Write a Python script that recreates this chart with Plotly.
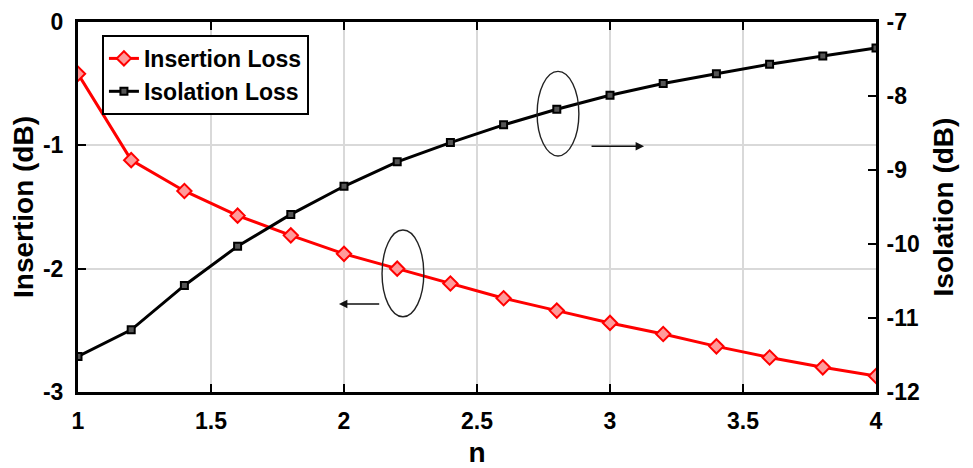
import plotly.graph_objects as go

n_values = [1.0, 1.2, 1.4, 1.6, 1.8, 2.0, 2.2, 2.4, 2.6, 2.8, 3.0, 3.2, 3.4, 3.6, 3.8, 4.0]
insertion_loss = [-0.42, -1.12, -1.37, -1.57, -1.73, -1.88, -2.00, -2.12, -2.24, -2.34,
                  -2.44, -2.53, -2.63, -2.72, -2.80, -2.87]
isolation_loss = [-11.52, -11.16, -10.56, -10.03, -9.60, -9.22, -8.89, -8.63, -8.39, -8.18,
                  -7.99, -7.83, -7.70, -7.57, -7.46, -7.35]

x_ticks = [1, 1.5, 2, 2.5, 3, 3.5, 4]
x_tick_labels = ["1", "1.5", "2", "2.5", "3", "3.5", "4"]
left_ticks = [0, -1, -2, -3]
right_ticks = [-7, -8, -9, -10, -11, -12]

FONT = "Liberation Sans, Arial, sans-serif"
TICK_SIZE = 23
TITLE_SIZE = 28

fig = go.Figure()
fig.add_trace(go.Scatter(
    x=n_values, y=insertion_loss, name="<b>Insertion Loss</b>", mode="lines+markers",
    line=dict(color="#ff0000", width=3),
    marker=dict(symbol="diamond", size=11, color="#ff9a9a", line=dict(color="#ff0000", width=2)),
    yaxis="y"))
fig.add_trace(go.Scatter(
    x=n_values, y=isolation_loss, name="<b>Isolation Loss</b>", mode="lines+markers",
    line=dict(color="#000000", width=3),
    marker=dict(symbol="square", size=7, color="#555555", line=dict(color="#000000", width=2)),
    yaxis="y2"))

# Annotation ellipses and arrows
fig.add_shape(type="circle", xref="x", yref="y", x0=2.726, x1=2.883, y0=-0.40, y1=-1.086,
              line=dict(color="#222222", width=1.4))
fig.add_shape(type="circle", xref="x", yref="y", x0=2.143, x1=2.30, y0=-1.687, y1=-2.39,
              line=dict(color="#222222", width=1.4))
fig.add_annotation(x=3.128, y=-1.008, ax=2.925, ay=-1.008, xref="x", yref="y", axref="x", ayref="y",
                   text="", showarrow=True, arrowhead=2, arrowsize=1.2, arrowwidth=1.4, arrowcolor="#111111")
fig.add_annotation(x=1.981, y=-2.287, ax=2.138, ay=-2.287, xref="x", yref="y", axref="x", ayref="y",
                   text="", showarrow=True, arrowhead=2, arrowsize=1.2, arrowwidth=1.4, arrowcolor="#111111")

def bold(vals):
    return ["<b>%s</b>" % v for v in vals]

fig.update_layout(
    width=973, height=468,
    margin=dict(l=70, r=105, t=14, b=84, autoexpand=False),
    paper_bgcolor="white", plot_bgcolor="white",
    font=dict(family=FONT, size=20, color="black"),
    showlegend=True,
    legend=dict(x=0.03, y=0.965, xanchor="left", yanchor="top",
                bgcolor="white", bordercolor="black", borderwidth=2,
                font=dict(family=FONT, size=23, color="black"),
                tracegroupgap=0, itemwidth=30),
    xaxis=dict(range=[1, 4], tickvals=x_ticks, ticktext=bold(x_tick_labels),
               showgrid=True, gridcolor="#d9d9d9", gridwidth=1.5,
               showline=True, linecolor="black", linewidth=3, mirror="ticks",
               ticks="inside", ticklen=8, tickwidth=2, tickcolor="black",
               tickfont=dict(family=FONT, size=TICK_SIZE, color="black"),
               ticklabeloverflow="allow", ticklabelstandoff=6,
               title=dict(text="<b>n</b>", font=dict(family=FONT, size=TITLE_SIZE), standoff=10),
               zeroline=False),
    yaxis=dict(range=[-3, 0], tickvals=left_ticks, ticktext=bold(left_ticks),
               showgrid=True, gridcolor="#d9d9d9", gridwidth=1.5,
               showline=True, linecolor="black", linewidth=3, mirror=True,
               ticks="inside", ticklen=8, tickwidth=2, tickcolor="black",
               tickfont=dict(family=FONT, size=TICK_SIZE, color="black"),
               ticklabeloverflow="allow", ticklabelstandoff=7,
               title=dict(text="<b>Insertion (dB)</b>", font=dict(family=FONT, size=TITLE_SIZE), standoff=6),
               zeroline=False),
    yaxis2=dict(range=[-12, -7], tickvals=right_ticks, ticktext=bold(right_ticks),
                overlaying="y", side="right", showgrid=False,
                showline=True, linecolor="black", linewidth=3,
                ticks="inside", ticklen=8, tickwidth=2, tickcolor="black",
                tickfont=dict(family=FONT, size=TICK_SIZE, color="black"),
                ticklabeloverflow="allow", ticklabelstandoff=3,
                title=dict(text="<b>Isolation (dB)</b>", font=dict(family=FONT, size=TITLE_SIZE), standoff=15),
                zeroline=False),
)

fig.write_html("out.html")
